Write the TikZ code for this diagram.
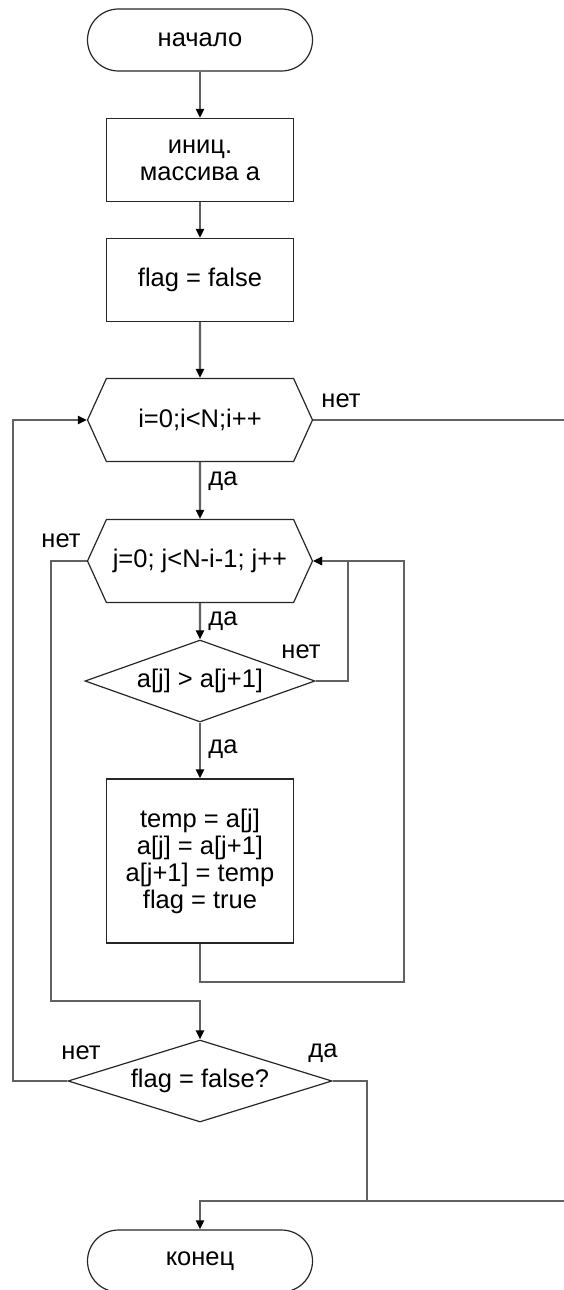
\documentclass[tikz,border=0pt]{standalone}
\usepackage{fontspec}
\setmainfont{Liberation Sans}
\usetikzlibrary{shapes.geometric,shapes.symbols,arrows.meta}

\tikzset{
    term/.style={draw=black!85, line width=1.2pt, rounded corners=31pt,
        minimum width=225pt, minimum height=62pt, inner sep=0pt},
    proc/.style={draw=black!85, line width=1.2pt, minimum width=187pt,
        minimum height=83pt, inner sep=0pt, align=center},
    loopbox/.style={draw=black!85, line width=1.2pt, signal, signal to=east and west,
        signal pointer angle=131, minimum width=225pt, minimum height=83pt, inner sep=0pt},
    cond/.style={draw=black!85, line width=1.2pt, diamond, aspect=2.8, minimum width=230pt,
        minimum height=82pt, inner sep=0pt},
    line/.style={draw=black!62, line width=2.2pt},
    arr/.style={line, -{Triangle[length=9pt,width=8pt,color=black]}},
    lbl/.style={inner sep=0pt}
}

\begin{document}
\begin{tikzpicture}[x=1pt,y=-1pt,font=\fontsize{25.5}{27}\selectfont]
    \useasboundingbox (0,0) rectangle (564,1290);

    % blocks
    \node[term] (start) at (200,40) {начало};
    \node[proc] (init) at (200,160) {иниц.\\массива a};
    \node[proc] (flag0) at (200,280) {flag = false};
    \node[loopbox] (iloop) at (200,420) {i=0;i<N;i++};
    \node[loopbox] (jloop) at (200,561) {j=0; j<N-i-1; j++};
    \node[cond] (cmp) at (200,681) {a[j] > a[j+1]};
    \node[proc, minimum height=164pt] (swap) at (200,861)
        {temp = a[j]\\a[j] = a[j+1]\\a[j+1] = temp\\flag = true};
    \node[cond, aspect=3.2, minimum width=264pt] (done) at (200,1081) {flag = false?};
    \node[term] (end) at (200,1261) {конец};

    % ends leaving the page
    \coordinate (iout) at (564,420);
    \coordinate (iin) at (564,1201);

    % labels
    \node[lbl] (iNo) at (341,401) {нет};
    \node[lbl] (iYes) at (223,481) {да};
    \node[lbl] (jNo) at (61,541) {нет};
    \node[lbl] (jYes) at (223,621) {да};
    \node[lbl] (cNo) at (301,652) {нет};
    \node[lbl] (cYes) at (223,749) {да};
    \node[lbl] (dNo) at (81,1053) {нет};
    \node[lbl] (dYes) at (323,1053) {да};

    % connectors
    \draw[arr] (start) -- (init);
    \draw[arr] (init) -- (flag0);
    \draw[arr] (flag0) -- (iloop);
    \draw[arr] (iloop) -- (jloop);
    \draw[arr] (jloop) -- (cmp);
    \draw[arr] (cmp) -- (swap);
    \draw[arr] (cmp.east) -- (348,681) -- (348,561) -- (jloop.east);
    \draw[arr] (swap.south) -- (200,982) -- (404,982) -- (404,561) -- (jloop.east);
    \draw[arr] (jloop.west) -- (51,561) -- (51,1001) -- (200,1001) -- (done.north);
    \draw[arr] (done.west) -- (13,1081) -- (13,420) -- (iloop.west);
    \draw[arr] (done.east) -- (367,1081) -- (367,1201) -- (200,1201) -- (end.north);
    \draw[line] (iloop.east) -- (iout);
    \draw[line] (iin) -- (367,1201);
\end{tikzpicture}
\end{document}
